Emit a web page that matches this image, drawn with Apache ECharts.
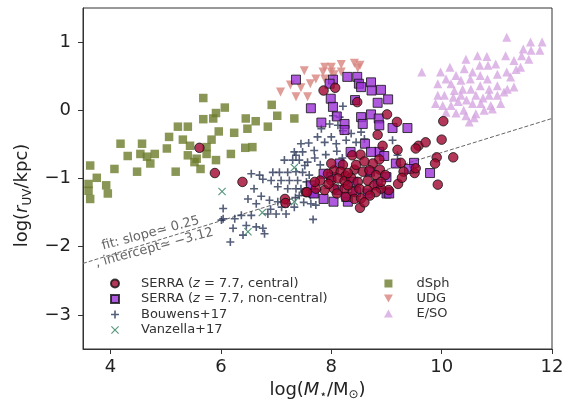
<!DOCTYPE html>
<html><head><meta charset="utf-8">
<script src="https://cdn.jsdelivr.net/npm/echarts@6/dist/echarts.min.js"></script>
<style>html,body{margin:0;padding:0;background:#fff}#c{width:571px;height:409px}</style>
</head><body><div id="c"></div>
<script>
const xTicks = [4, 6, 8, 10, 12];
const yTicks = [-3, -2, -1, 0, 1];
const fitSlope = 0.25;
const fitIntercept = -3.12;

const dSph = [[5.68,0.18],[6.07,0.04],[5.91,-0.04],[5.86,-0.12],[5.68,-0.13],[6.92,0.08],[7.02,-0.08],[6.45,-0.12],[6.63,-0.16],[6.85,-0.24],[6.48,-0.27],[5.22,-0.24],[5.40,-0.24],[5.96,-0.31],[6.24,-0.33],[5.06,-0.39],[5.31,-0.43],[5.83,-0.43],[4.18,-0.49],[4.57,-0.49],[5.02,-0.56],[5.44,-0.52],[5.74,-0.54],[6.44,-0.55],[6.57,-0.54],[4.31,-0.67],[4.54,-0.64],[4.66,-0.68],[4.80,-0.64],[4.72,-0.78],[5.40,-0.66],[5.56,-0.71],[5.74,-0.64],[6.18,-0.64],[5.52,-0.76],[5.91,-0.73],[5.63,-0.86],[3.63,-0.81],[4.07,-0.86],[4.48,-0.90],[5.18,-0.90],[3.75,-0.99],[3.60,-1.08],[3.92,-1.10],[3.60,-1.18],[3.95,-1.22],[3.63,-1.30],[7.33,-0.12]];

const udg = [[7.08,0.27],[7.26,0.37],[7.36,0.20],[7.45,0.33],[7.51,0.58],[7.57,0.20],[7.62,0.39],[7.72,0.46],[7.85,0.56],[7.88,0.63],[7.88,0.46],[8.0,0.63],[8.0,0.56],[8.05,0.52],[8.18,0.67],[8.18,0.56],[8.42,0.69],[8.52,0.66],[8.48,0.62]];

const eso = [[9.64,0.56],[11.18,1.07],[10.65,0.80],[10.82,0.79],[10.44,0.75],[10.15,0.63],[9.98,0.56],[10.26,0.51],[10.41,0.61],[10.56,0.56],[10.69,0.66],[10.84,0.66],[10.98,0.68],[11.16,0.80],[11.31,0.73],[11.43,0.63],[11.18,0.56],[11.48,0.90],[11.61,1.0],[11.62,0.88],[11.82,1.0],[11.78,0.88],[11.58,0.75],[10.08,0.46],[9.93,0.39],[10.17,0.39],[10.35,0.44],[10.52,0.46],[10.70,0.51],[10.83,0.46],[11.01,0.53],[11.25,0.49],[10.23,0.29],[10.38,0.31],[10.53,0.31],[10.70,0.36],[10.86,0.31],[11.01,0.36],[11.19,0.31],[11.31,0.34],[9.93,0.22],[10.05,0.22],[10.21,0.19],[10.35,0.22],[10.62,0.22],[10.86,0.22],[11.01,0.22],[11.13,0.27],[9.89,0.10],[10.02,0.07],[10.17,0.07],[10.56,0.10],[10.71,0.10],[10.89,0.07],[11.07,0.10],[10.40,0.0],[10.77,0.0],[10.26,-0.04],[10.08,-0.03],[10.44,-0.08],[10.62,-0.05],[10.50,-0.17],[10.59,-0.11],[10.92,0.02],[10.30,0.13],[10.45,0.15],[10.75,0.18],[11.45,0.80],[11.35,0.60]];

const bouwens = [[6.01,-1.61],[6.04,-1.44],[6.04,-1.59],[6.17,-1.93],[6.22,-1.73],[6.25,-1.59],[6.37,-1.54],[6.40,-1.83],[6.46,-1.69],[6.49,-1.30],[6.55,-1.54],[6.55,-0.93],[6.64,-1.37],[6.64,-1.71],[6.73,-1.26],[6.76,-1.01],[6.76,-1.73],[6.79,-1.81],[6.85,-1.52],[6.88,-1.32],[6.91,-1.03],[6.94,-0.91],[7.0,-1.52],[7.03,-1.12],[7.03,-1.34],[7.06,-0.91],[7.09,-1.03],[7.15,-0.73],[7.18,-1.52],[7.21,-0.91],[7.21,-1.15],[7.21,-1.37],[7.24,-1.03],[7.30,-0.73],[7.33,-0.61],[7.33,-1.42],[7.36,-0.90],[7.36,-1.15],[7.36,-0.66],[7.39,-1.03],[7.42,-0.73],[7.45,-0.49],[7.48,-0.61],[7.48,-0.91],[7.57,-0.76],[7.59,-0.48],[7.63,-1.37],[7.67,-1.60],[7.72,-1.39],[7.75,-0.39],[7.69,-0.59],[7.82,-0.27],[7.88,-0.47],[7.97,-0.20],[8.0,-0.39],[8.03,-0.08],[8.09,-0.49],[8.12,-0.22],[8.15,-0.10],[8.21,0.06],[8.21,-0.30],[8.27,-0.44],[8.36,-0.34],[8.45,-0.47],[8.54,-0.32],[8.60,-0.42],[9.11,-0.44],[9.20,-0.66],[7.52,-0.81],[7.60,-0.95],[7.45,-1.15],[7.55,-1.05],[7.42,-1.25],[7.50,-1.35],[7.62,-1.25],[7.70,-0.70],[7.80,-0.80],[7.90,-0.65],[8.10,-0.60],[8.20,-0.70],[7.35,-1.28],[6.90,-1.45],[7.10,-1.42],[6.60,-1.15],[6.70,-0.95]];

const vanzella = [[6.02,-1.19],[6.49,-1.78],[6.75,-1.50],[7.33,-0.84],[7.33,-1.34]];

const serraNonCentral = [[7.36,0.45],[8.03,0.45],[7.97,0.39],[8.29,0.49],[8.47,0.49],[8.50,0.39],[8.54,0.34],[8.72,0.41],[8.73,0.29],[8.90,0.30],[9.03,0.16],[8.84,0.11],[7.99,0.17],[8.43,0.15],[8.03,0.05],[7.63,0.03],[8.10,-0.09],[7.82,-0.18],[8.24,-0.20],[8.54,-0.10],[8.72,-0.06],[8.57,-0.20],[8.86,-0.12],[8.87,-0.22],[9.11,-0.26],[9.38,-0.26],[8.24,-0.29],[8.61,-0.49],[8.35,-0.61],[8.87,-0.61],[8.96,-0.67],[9.50,-0.77],[9.79,-0.92],[7.86,-0.93],[7.67,-1.21],[7.86,-1.30],[8.04,-1.34],[9.0,-0.98],[9.02,-1.20],[8.72,-0.61],[9.17,-0.78],[9.41,-0.86],[7.63,-1.10],[8.12,-1.17],[8.66,-1.22],[8.84,-1.08],[8.30,-1.34],[9.0,-1.22],[7.69,-1.22],[8.27,-1.27],[9.05,-1.22],[8.0,-0.98],[8.45,-1.20],[8.70,-0.90],[8.40,-1.05],[8.15,-0.78]];

const serraCentral = [[5.61,-0.55],[5.89,-0.92],[6.39,-1.05],[7.16,-1.30],[7.17,-1.36],[7.54,-1.20],[7.86,0.29],[8.07,0.33],[8.47,0.12],[9.01,-0.06],[9.19,-0.17],[8.84,-0.36],[8.93,-0.52],[9.20,-0.58],[9.58,-0.52],[9.71,-0.47],[10.0,-0.43],[9.53,-0.56],[10.03,-0.16],[9.91,-0.69],[10.21,-0.69],[9.88,-0.78],[8.38,-0.66],[8.53,-0.65],[8.87,-0.72],[9.26,-0.77],[9.31,-0.90],[9.51,-0.92],[9.53,-0.85],[9.21,-1.08],[9.28,-0.99],[9.93,-1.09],[9.04,-1.17],[8.88,-0.87],[8.98,-0.95],[8.75,-0.78],[8.21,-0.80],[8.42,-0.87],[8.57,-0.90],[8.69,-0.88],[8.81,-0.95],[8.05,-0.88],[8.17,-0.90],[8.26,-0.96],[7.94,-0.93],[7.80,-1.03],[8.0,-1.03],[8.12,-1.0],[8.24,-1.04],[8.36,-0.99],[8.48,-1.05],[8.66,-1.03],[8.78,-1.10],[8.90,-1.15],[7.88,-1.17],[8.05,-1.15],[8.24,-1.15],[8.39,-1.19],[8.51,-1.15],[8.66,-1.17],[8.81,-1.20],[7.56,-1.20],[7.72,-1.15],[8.42,-1.30],[8.54,-1.29],[8.26,-1.27],[8.52,-1.43],[8.60,-1.35],[7.95,-1.08],[8.30,-1.10],[8.45,-0.80],[8.60,-0.75],[8.00,-0.78],[8.90,-1.05],[7.70,-1.05],[8.10,-1.22],[8.70,-1.25],[8.30,-0.92]];

const FONT = 'DejaVu Sans';
const plusPath = 'path://M4 0H6V4H10V6H6V10H4V6H0V4H4Z';
const xPath = 'path://M1 0L5 4L9 0L10 1L6 5L10 9L9 10L5 6L1 10L0 9L4 5L0 1Z';
const downTri = 'path://M0 0L10 0L5 9Z';
const upTri = 'path://M5 0L10 9L0 9Z';
const square = 'path://M0 0H10V10H0Z';

const xMin = 3.5, xMax = 12, yMin = -3.5, yMax = 1.5;
const fitLine = [[xMin, fitSlope * xMin + fitIntercept], [xMax, fitSlope * xMax + fitIntercept]];

const legendNames = {
  'SERRA (z = 7.7, central)': 'SERRA ({i|z} = 7.7, central)',
  'SERRA (z = 7.7, non-central)': 'SERRA ({i|z} = 7.7, non-central)'
};
const legendText = {fontFamily: FONT, fontSize: 13, color: '#333', lineHeight: 15,
  rich: {i: {fontFamily: FONT, fontSize: 13, fontStyle: 'italic', color: '#333', lineHeight: 15}}};
const minus = v => String(v).replace('-', '\u2212');

const chart = echarts.init(document.getElementById('c'), null, {renderer: 'canvas'});
const option = {
  animation: false,
  backgroundColor: '#fff',
  grid: {left: 83, right: 19, top: 8, bottom: 60, show: true, borderColor: '#333', borderWidth: 1, outerBoundsMode: 'none'},
  xAxis: {
    type: 'value', min: xMin, max: xMax,
    name: '{a|log(}{i|M}{s|\u22c6}{a|/M}{s|\u2299}{a|)}',
    nameLocation: 'middle', nameGap: 30,
    nameTextStyle: {rich: {
      a: {fontFamily: FONT, fontSize: 18, color: '#222', lineHeight: 22},
      i: {fontFamily: FONT, fontSize: 18, fontStyle: 'italic', color: '#222', lineHeight: 22},
      s: {fontFamily: FONT, fontSize: 12, color: '#222', lineHeight: 12, verticalAlign: 'bottom'}
    }},
    axisLine: {onZero: false, lineStyle: {color: '#333', width: 1}},
    axisTick: {show: true, length: 5, inside: false, customValues: xTicks, lineStyle: {color: '#333'}},
    axisLabel: {customValues: xTicks, formatter: minus, fontFamily: FONT, fontSize: 18, color: '#222', margin: 9},
    splitLine: {show: false}
  },
  yAxis: {
    type: 'value', min: yMin, max: yMax,
    name: '{a|log(}{i|r}{s|UV}{a|/kpc)}',
    nameLocation: 'middle', nameGap: 46, nameRotate: 90,
    nameTextStyle: {padding: [0, 34, 0, 0], rich: {
      a: {fontFamily: FONT, fontSize: 18, color: '#222', lineHeight: 22},
      i: {fontFamily: FONT, fontSize: 18, fontStyle: 'italic', color: '#222', lineHeight: 22},
      s: {fontFamily: FONT, fontSize: 12, color: '#222', lineHeight: 12, verticalAlign: 'bottom'}
    }},
    axisLine: {onZero: false, lineStyle: {color: '#333', width: 1}},
    axisTick: {show: true, length: 5, inside: false, customValues: yTicks, lineStyle: {color: '#333'}},
    axisLabel: {customValues: yTicks, formatter: minus, fontFamily: FONT, fontSize: 18, color: '#222', margin: 12},
    splitLine: {show: false}
  },
  legend: [
    {orient: 'vertical', left: 105, top: 271, itemWidth: 42, itemHeight: 8, itemGap: 0.5,
     data: ['SERRA (z = 7.7, central)', 'SERRA (z = 7.7, non-central)', 'Bouwens+17', 'Vanzella+17'],
     formatter: n => legendNames[n] || n, textStyle: legendText, selectedMode: false},
    {orient: 'vertical', left: 379, top: 271, itemWidth: 46, itemHeight: 8, itemGap: 0,
     data: ['dSph', 'UDG', 'E/SO'], textStyle: legendText, selectedMode: false}
  ],
  series: [
    {type: 'line', name: 'fit', data: fitLine, showSymbol: false, symbol: 'none', silent: true,
     lineStyle: {color: '#666', width: 1, type: [4, 2]}, z: 1},
    {type: 'scatter', name: 'dSph', data: dSph, symbol: square, symbolSize: 8.5,
     itemStyle: {color: '#6b7c2c'}, z: 2},
    {type: 'scatter', name: 'UDG', data: udg, symbol: downTri, symbolSize: 9,
     itemStyle: {color: '#d8837d'}, z: 2},
    {type: 'scatter', name: 'E/SO', data: eso, symbol: upTri, symbolSize: 9,
     itemStyle: {color: '#d6a6e1'}, z: 2},
    {type: 'scatter', name: 'Bouwens+17', data: bouwens, symbol: plusPath, symbolSize: 8,
     itemStyle: {color: '#2c3758'}, z: 3},
    {type: 'scatter', name: 'Vanzella+17', data: vanzella, symbol: xPath, symbolSize: 8,
     itemStyle: {color: '#2e7d5b'}, z: 3},
    {type: 'scatter', name: 'SERRA (z = 7.7, non-central)', data: serraNonCentral, symbol: square, symbolSize: 9,
     itemStyle: {color: '#9a30d6', borderColor: '#111', borderWidth: 1}, z: 4},
    {type: 'scatter', name: 'SERRA (z = 7.7, central)', data: serraCentral, symbol: 'circle', symbolSize: 9.5,
     itemStyle: {color: '#a0052e', borderColor: '#111', borderWidth: 1}, z: 5}
  ]
};
chart.setOption(option);

const anchor = chart.convertToPixel({gridIndex: 0}, [4.76, -1.91]);
chart.setOption({
  graphic: [{
    type: 'text', x: anchor[0], y: anchor[1], rotation: 15 * Math.PI / 180, silent: true, z: 10,
    style: {text: 'fit: slope\u2243 0.25\n, intercept\u2243 \u22123.12', x: 0, y: 0,
      align: 'center', verticalAlign: 'middle', fill: '#666', font: '13px "DejaVu Sans"', lineHeight: 15}
  }]
});
</script>
</body></html>
